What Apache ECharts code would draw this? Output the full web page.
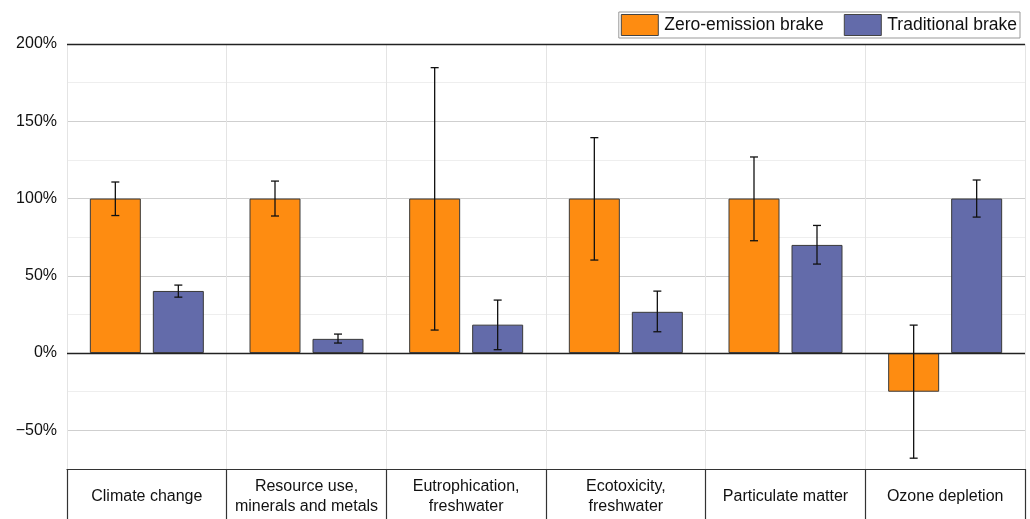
<!DOCTYPE html>
<html>
<head>
<meta charset="utf-8">
<script src="https://cdn.jsdelivr.net/npm/echarts@6/dist/echarts.min.js"></script>
<style>
html,body{margin:0;padding:0;background:#fff;}
#chart{width:1030px;height:519px;}
</style>
</head>
<body>
<div id="chart"></div>
<script>
var categories = ['Climate change', 'Resource use,\nminerals and metals', 'Eutrophication,\nfreshwater', 'Ecotoxicity,\nfreshwater', 'Particulate matter', 'Ozone depletion'];
var zeroValues = [100, 100, 100, 100, 100, -25];
var zeroLow    = [89, 88.7, 14.9, 60.2, 72.7, -68];
var zeroHigh   = [110.7, 111.3, 184.7, 139.4, 126.9, 18.1];
var tradValues = [40.2, 9.2, 18.4, 26.7, 70, 100];
var tradLow    = [36.2, 6.5, 2.2, 13.8, 57.6, 88];
var tradHigh   = [44, 12.3, 34.3, 40.1, 82.6, 112];
var seriesNames = ['Zero-emission brake', 'Traditional brake'];
var yTicks = [-50, 0, 50, 100, 150, 200];

var BAR_W = 51, GAP = 12;
function errSeries(low, high, dir) {
  return {
    type: 'custom',
    silent: true,
    z: 5,
    data: categories.map(function (c, i) { return [i, low[i], high[i]]; }),
    encode: { x: 0, y: [1, 2] },
    renderItem: function (params, api) {
      var i = api.value(0);
      var p1 = api.coord([i, api.value(1)]);
      var p2 = api.coord([i, api.value(2)]);
      var x = p1[0] + dir * (BAR_W + GAP) / 2;
      var cap = 4;
      var st = { stroke: '#111', lineWidth: 1.3 };
      return {
        type: 'group',
        children: [
          { type: 'line', shape: { x1: x, y1: p1[1], x2: x, y2: p2[1] }, style: st },
          { type: 'line', shape: { x1: x - cap, y1: p1[1], x2: x + cap, y2: p1[1] }, style: st },
          { type: 'line', shape: { x1: x - cap, y1: p2[1], x2: x + cap, y2: p2[1] }, style: st }
        ]
      };
    }
  };
}

var chart = echarts.init(document.getElementById('chart'), null, { renderer: 'canvas' });
chart.setOption({
  animation: false,
  textStyle: { fontFamily: 'Liberation Sans, Arial, sans-serif' },
  legend: {
    right: 10, top: 12,
    data: seriesNames,
    icon: 'rect',
    itemWidth: 37, itemHeight: 21, itemGap: 20,
    borderColor: '#999', borderWidth: 1,
    padding: [2, 3, 2, 2],
    itemStyle: { borderColor: '#444', borderWidth: 1 },
    textStyle: { fontSize: 17.5, color: '#111', padding: [0, 0, 0, 1] }
  },
  grid: { left: 67, right: 5, top: 44, bottom: 50, containLabel: false },
  xAxis: {
    type: 'category',
    data: categories,
    boundaryGap: true,
    axisLine: { show: true, onZero: false, lineStyle: { color: '#333', width: 1.2 } },
    axisTick: { show: true, length: 60, alignWithLabel: false, lineStyle: { color: '#333', width: 1.2 } },
    axisLabel: { interval: 0, fontSize: 16, color: '#111', lineHeight: 20, margin: 28, verticalAlign: 'middle' },
    splitLine: { show: true, interval: 0, lineStyle: { color: '#e4e4e4', width: 1 } }
  },
  yAxis: {
    type: 'value',
    min: -75, max: 200, interval: 25,
    axisLine: { show: false },
    axisTick: { show: false },
    axisLabel: {
      fontSize: 16, color: '#111', margin: 10,
      formatter: function (v) { return yTicks.indexOf(v) >= 0 ? (v < 0 ? '\u2212' + Math.abs(v) : v) + '%' : ''; }
    },
    splitLine: { show: true, lineStyle: { color: ['#eeeeee', '#cfcfcf'], width: 1 } }
  },
  series: [
    {
      name: seriesNames[0], type: 'bar', data: zeroValues,
      barWidth: BAR_W, barGap: (GAP / BAR_W * 100) + '%',
      itemStyle: { color: '#FE8C11', borderColor: '#3a3a3a', borderWidth: 1 },
      markLine: {
        silent: true, symbol: 'none', label: { show: false },
        lineStyle: { color: '#222', type: 'solid', width: 1.3 },
        data: [{ yAxis: 0 }, { yAxis: 200 }]
      }
    },
    {
      name: seriesNames[1], type: 'bar', data: tradValues,
      barWidth: BAR_W,
      itemStyle: { color: '#636BAA', borderColor: '#3a3a3a', borderWidth: 1 }
    },
    errSeries(zeroLow, zeroHigh, -1),
    errSeries(tradLow, tradHigh, 1)
  ]
});
</script>
</body>
</html>
